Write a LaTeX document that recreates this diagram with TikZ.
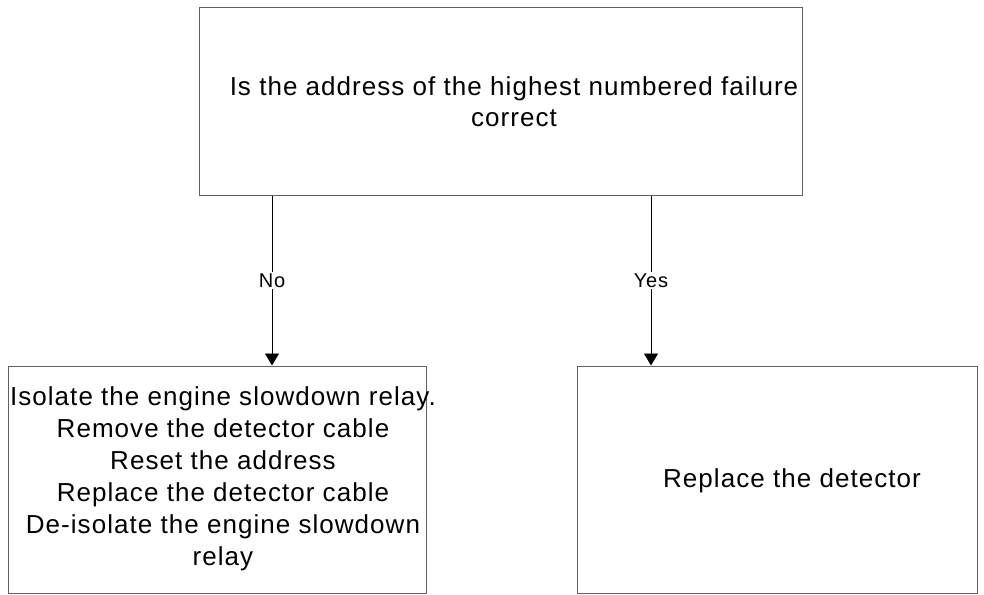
\documentclass[tikz,border=0pt]{standalone}
\usepackage{fontspec}
\setmainfont{Liberation Sans}[LetterSpace=4]
\usetikzlibrary{arrows.meta,calc}
\definecolor{boxgray}{HTML}{606060}
\tikzset{
  box/.style={draw=boxgray,line width=1pt,rectangle,inner sep=0pt},
  txt/.style={align=center,inner sep=0pt,font=\fontsize{26}{31}\selectfont},
  arr/.style={draw=black,line width=0.9pt,-{Triangle[length=12pt,width=14pt]}},
  lab/.style={fill=white,inner sep=2pt,font=\fontsize{20}{22}\selectfont}
}
\begin{document}
\begin{tikzpicture}[x=1pt,y=-1pt]
\useasboundingbox (0,0) rectangle (984,594);
\fill[white] (0,0) rectangle (984,594);
\node[box,minimum width=603pt,minimum height=187pt] (top) at (500.5,101.5) {};
\node[box,minimum width=418pt,minimum height=227pt] (left) at (217,479.5) {};
\node[box,minimum width=400pt,minimum height=227pt] (right) at (777,479.5) {};
\node[txt] (toptxt) at (514,102) {Is the address of the highest numbered failure\\correct};
\node[txt,font=\fontsize{26}{32}\selectfont] (lefttxt) at (223,479) {Isolate the engine slowdown relay.\\Remove the detector cable\\Reset the address\\Replace the detector cable\\De-isolate the engine slowdown\\relay};
\node[txt] (righttxt) at (792,481) {Replace the detector};
\coordinate (nox) at (272,281);
\coordinate (yesx) at (651,281);
\draw[arr] (top.south -| nox) -- node[lab] {No} (left.north -| nox);
\draw[arr] (top.south -| yesx) -- node[lab] {Yes} (right.north -| yesx);
\end{tikzpicture}
\end{document}
